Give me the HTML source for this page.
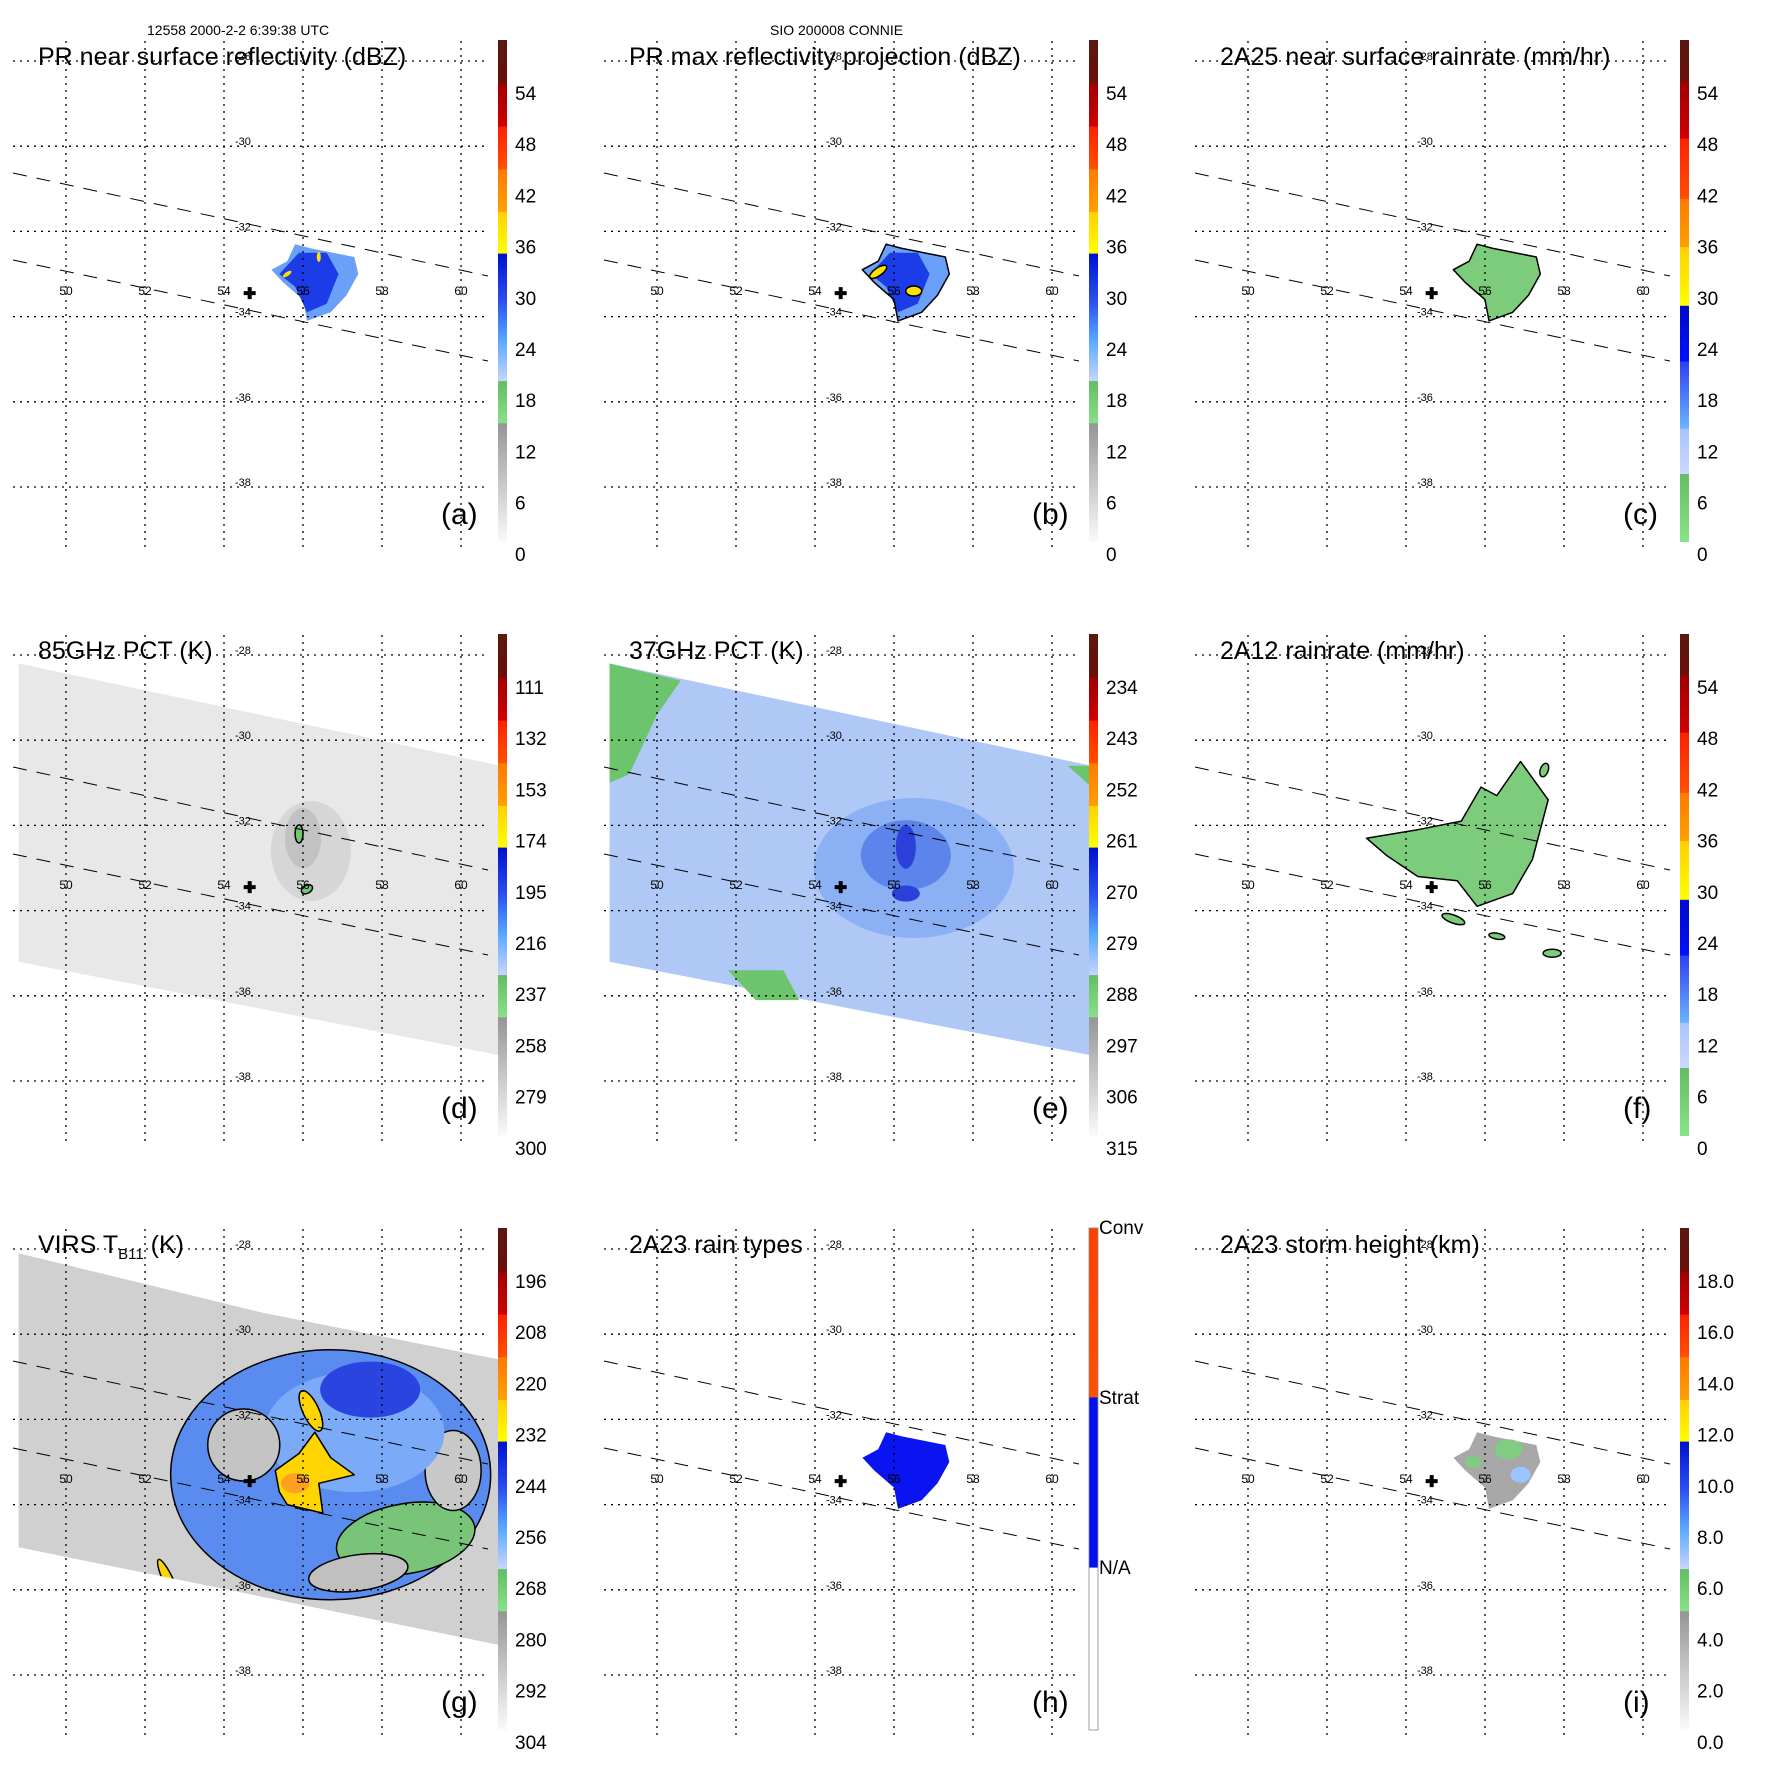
<!DOCTYPE html>
<html><head><meta charset="utf-8"><style>
html,body{margin:0;padding:0;background:#fff;}
svg{display:block;font-family:"Liberation Sans",Arial,sans-serif;}
</style></head><body>
<svg id="fig" width="1771" height="1771" viewBox="0 0 1771 1771" xmlns="http://www.w3.org/2000/svg">
<defs>
<linearGradient id="gA" x1="0" y1="0" x2="0" y2="1">
<stop offset="0" stop-color="#5a1812"/><stop offset="0.086" stop-color="#6a1008"/>
<stop offset="0.087" stop-color="#a00000"/><stop offset="0.172" stop-color="#d00000"/>
<stop offset="0.173" stop-color="#ff2000"/><stop offset="0.257" stop-color="#ff5000"/>
<stop offset="0.258" stop-color="#ff7a00"/><stop offset="0.342" stop-color="#ffa000"/>
<stop offset="0.343" stop-color="#ffd000"/><stop offset="0.425" stop-color="#ffff00"/>
<stop offset="0.426" stop-color="#0010d0"/><stop offset="0.52" stop-color="#2a50f0"/><stop offset="0.6" stop-color="#5aaaff"/><stop offset="0.679" stop-color="#c8d4ff"/>
<stop offset="0.68" stop-color="#64bc64"/><stop offset="0.763" stop-color="#88e088"/>
<stop offset="0.764" stop-color="#959595"/><stop offset="1" stop-color="#fafafa"/>
</linearGradient>
<linearGradient id="gC" x1="0" y1="0" x2="0" y2="1">
<stop offset="0" stop-color="#5a1812"/><stop offset="0.082" stop-color="#6a1008"/>
<stop offset="0.083" stop-color="#a00000"/><stop offset="0.196" stop-color="#d00000"/>
<stop offset="0.197" stop-color="#ff2000"/><stop offset="0.316" stop-color="#ff5000"/>
<stop offset="0.317" stop-color="#ff7a00"/><stop offset="0.412" stop-color="#ffa000"/>
<stop offset="0.413" stop-color="#ffd000"/><stop offset="0.529" stop-color="#ffff00"/>
<stop offset="0.53" stop-color="#0008c8"/><stop offset="0.64" stop-color="#0010ff"/>
<stop offset="0.641" stop-color="#3040f0"/><stop offset="0.774" stop-color="#6ab4ff"/>
<stop offset="0.775" stop-color="#a8c4ff"/><stop offset="0.864" stop-color="#ccd8ff"/>
<stop offset="0.865" stop-color="#64bc64"/><stop offset="1" stop-color="#88e488"/>
</linearGradient>
<linearGradient id="gH" x1="0" y1="0" x2="0" y2="1">
<stop offset="0" stop-color="#ff4000"/><stop offset="0.337" stop-color="#ff5000"/>
<stop offset="0.338" stop-color="#0010f0"/><stop offset="0.676" stop-color="#0010f0"/>
<stop offset="0.677" stop-color="#ffffff"/><stop offset="1" stop-color="#ffffff"/>
</linearGradient>
</defs>
<text x="147" y="35" font-size="14">12558 2000-2-2 6:39:38 UTC</text>
<text x="770" y="35" font-size="14">SIO 200008 CONNIE</text>
</svg>
<script>
const NS="http://www.w3.org/2000/svg";
const fig=document.getElementById('fig');
const lonTicks=[50,52,54,56,58,60];
const latTicks=[-28,-30,-32,-34,-36,-38];
const panelTitles=["PR near surface reflectivity (dBZ)","PR max reflectivity projection (dBZ)","2A25 near surface rainrate (mm/hr)","85GHz PCT (K)","37GHz PCT (K)","2A12 rainrate (mm/hr)","VIRS T","2A23 rain types","2A23 storm height (km)"];
const panelLetters=["(a)","(b)","(c)","(d)","(e)","(f)","(g)","(h)","(i)"];
const cbarA=["54","48","42","36","30","24","18","12","6","0"];
const cbarD=["111","132","153","174","195","216","237","258","279","300"];
const cbarE=["234","243","252","261","270","279","288","297","306","315"];
const cbarG=["196","208","220","232","244","256","268","280","292","304"];
const cbarI=["18.0","16.0","14.0","12.0","10.0","8.0","6.0","4.0","2.0","0.0"];
const cbarH=["Conv","Strat","N/A"];
const cbarLabels=[cbarA,cbarA,cbarA,cbarD,cbarE,cbarA,cbarG,cbarH,cbarI];
const cbarGrad=["gA","gA","gC","gA","gA","gC","gA","gH","gA"];
const eyeLon=54.65, eyeLat=-33.45;

function el(tag,attrs,parent){const e=document.createElementNS(NS,tag);for(const k in attrs)e.setAttribute(k,attrs[k]);(parent||fig).appendChild(e);return e;}
const xs=lon=>66+(lon-50)*39.5;
const ys=lat=>61+(-28-lat)*42.6;
function pts(arr){return arr.map(p=>xs(p[0]).toFixed(1)+","+ys(p[1]).toFixed(1)).join(" ");}

const prBlob=[[55.2,-32.9],[55.6,-32.7],[55.8,-32.3],[56.2,-32.4],[57.3,-32.6],[57.4,-33.0],[57.1,-33.5],[56.7,-33.9],[56.1,-34.1],[56.0,-33.6],[55.5,-33.2]];
const swath=[[48.8,-28.2],[61.0,-30.6],[61.0,-37.4],[48.8,-35.2]];
const fBlob=[[53.0,-32.3],[54.3,-32.1],[55.4,-31.9],[55.9,-31.1],[56.3,-31.3],[56.9,-30.5],[57.6,-31.4],[57.2,-32.8],[56.7,-33.6],[55.8,-33.9],[55.3,-33.3],[54.3,-33.2],[53.5,-32.7]];

function panel(i){
  const ox=(i%3)*591, oy=Math.floor(i/3)*594;
  const g=el('g',{transform:`translate(${ox},${oy})`});
  
  
  const data=el('g',{},g);
  
  
  drawData(i,data);
  lonTicks.forEach(lon=>{
    const l=el('line',{x1:xs(lon),x2:xs(lon),y1:41,y2:551,stroke:'#000','stroke-width':1.3,'stroke-dasharray':'2,5'},g);
    
    
    const t=el('text',{x:xs(lon),y:295,'font-size':12,'text-anchor':'middle'},g);t.textContent=lon;
    
    
  });
  latTicks.forEach(lat=>{
    const l=el('line',{x1:13,x2:488,y1:ys(lat),y2:ys(lat),stroke:'#000','stroke-width':1.3,'stroke-dasharray':'2,5'},g);
    
    
    const t=el('text',{x:235,y:ys(lat)-1,'font-size':11},g);t.textContent=lat;
    
    
  });
  [[173,276],[260,361]].forEach(p=>{
    const l=el('line',{x1:13,y1:p[0],x2:488,y2:p[1],stroke:'#000','stroke-width':1,'stroke-dasharray':'14,10'},g);
    
    
  });
  const c=el('path',{d:`M${xs(eyeLon)-6},${ys(eyeLat)}h12M${xs(eyeLon)},${ys(eyeLat)-6}v12`,stroke:'#000','stroke-width':4},g);
  
  
  const t=el('text',{x:38,y:65,'font-size':25},g);
  
  
  if(i===6){t.textContent='VIRS T';const s=el('tspan',{'font-size':15,dy:6},t);s.textContent='B11';const s2=el('tspan',{dy:-6},t);s2.textContent=' (K)';}
  else t.textContent=panelTitles[i];
  const L=el('text',{x:441,y:524,'font-size':30},g);L.textContent=panelLetters[i];
  
  
  const cb=el('rect',{x:498,y:40,width:9,height:502,fill:`url(#${cbarGrad[i]})`,stroke:i===7?'#888':'none','stroke-width':0.8},g);
  
  
  const labs=cbarLabels[i];
  labs.forEach((s,k)=>{
    let y;
    if(i===7) y=46+k*170; else y=100+k*51.2;
    const tt=el('text',{x:i===7?508:515,y:y,'font-size':19},g);tt.textContent=s;
    
    
  });
}

function poly(parent,arr,fill,stroke,name){
  const p=el('polygon',{points:pts(arr),fill:fill,stroke:stroke||'none','stroke-width':1.5,'stroke-linejoin':'round'},parent);
  
  
  return p;
}
function ell(parent,lon,lat,rx,ry,fill,stroke,name,rot){
  const e=el('ellipse',{cx:xs(lon),cy:ys(lat),rx:rx,ry:ry,fill:fill,stroke:stroke||'none','stroke-width':1.5,transform:rot?`rotate(${rot} ${xs(lon)} ${ys(lat)})`:''},parent);
  
  
  return e;
}

function drawData(i,d){
  if(i===0||i===1){
    poly(d,prBlob,'#6aa0f8',null,'rain-echo');
    poly(d,[[55.4,-33.0],[55.9,-32.5],[56.6,-32.5],[56.9,-33.0],[56.6,-33.7],[56.1,-33.9],[55.8,-33.3]],'#1c3ce8',null,'strong-echo');
    if(i===1){poly(d,prBlob,'none','#000','echo-contour');
      ell(d,55.6,-32.95,10,4,'#ffe000','#000','convective-core',-35);
      ell(d,56.5,-33.4,8,5,'#ffe000','#000','convective-core',0);}
    else {ell(d,55.6,-33.0,5,2,'#ffe000',null,'convective-core',-35);ell(d,56.4,-32.6,2,5,'#ffe000',null,'convective-core',0);}
  } else if(i===2){
    poly(d,prBlob,'#7ccc7c','#000','rain-area');
  } else if(i===3){
    poly(d,swath,'#e8e8e8',null,'tmi-swath');
    ell(d,56.2,-32.6,40,50,'#d6d6d6',null,'ice-scattering');
    ell(d,56.0,-32.3,18,30,'#c2c2c2',null,'ice-scattering');
    ell(d,55.9,-32.2,4,9,'#70c870','#000','cold-pct-area');
    ell(d,56.1,-33.5,6,4,'#70c870','#000','cold-pct-area',-30);
  } else if(i===4){
    poly(d,swath,'#b0c8f6',null,'tmi-swath');
    ell(d,56.5,-33.0,100,70,'#8cb0f4',null,'warm-rain-area');
    ell(d,56.3,-32.7,45,35,'#5c84ea',null,'rain-band');
    ell(d,56.3,-32.5,10,22,'#2a40d8',null,'heavy-rain');
    ell(d,56.3,-33.6,14,8,'#2a40d8',null,'heavy-rain');
    poly(d,[[48.8,-28.2],[50.6,-28.6],[50.0,-29.4],[49.3,-30.8],[48.8,-31.0]],'#6cc46c',null,'land-area');
    poly(d,[[51.8,-35.4],[53.2,-35.4],[53.6,-36.1],[52.5,-36.1]],'#6cc46c',null,'land-area');
    poly(d,[[60.4,-30.6],[61.0,-30.6],[61.0,-31.1]],'#6cc46c',null,'land-area');
  } else if(i===5){
    poly(d,fBlob,'#7ccc7c','#000','rain-area');
    ell(d,55.2,-34.2,12,4,'#7ccc7c','#000','rain-cell',20);
    ell(d,56.3,-34.6,8,3,'#7ccc7c','#000','rain-cell',10);
    ell(d,57.7,-35.0,9,4,'#7ccc7c','#000','rain-cell',0);
    ell(d,57.5,-30.7,4,7,'#7ccc7c','#000','rain-cell',20);
  } else if(i===6){
    const sw=[[48.8,-28.1],[55.0,-29.5],[61.0,-30.6],[61.0,-37.3],[48.8,-35.0]];
    poly(d,sw,'#d0d0d0',null,'virs-swath');
    const cp=el('clipPath',{id:'clipG'},d);
    el('polygon',{points:pts(sw)},cp);
    const g2=el('g',{'clip-path':'url(#clipG)'},d);
    
    
    ell(g2,56.7,-33.3,160,125,'#5a8cf0','#000','outer-rainband');
    ell(g2,58.6,-34.8,70,35,'#78c478','#000','warm-cloud',-10);
    ell(g2,59.8,-33.2,28,40,'#c8c8c8','#000','clear-gap');
    ell(g2,57.4,-35.6,50,18,'#c0c0c0','#000','clear-gap',-8);
    ell(g2,57.3,-32.3,90,60,'#7aaaf8',null,'inner-cloud');
    ell(g2,57.7,-31.3,50,28,'#2a44e0',null,'deep-convection');
    ell(g2,54.5,-32.6,36,36,'#c4c4c4','#000','eye-region');
    poly(g2,[[55.3,-33.2],[55.9,-32.8],[56.3,-32.3],[56.7,-32.9],[57.3,-33.3],[56.4,-33.5],[56.5,-34.2],[55.6,-34.0],[55.4,-33.7]],'#ffd400','#000','cold-cloud-top');
    ell(g2,55.8,-33.5,14,10,'#ffa020',null,'coldest-cloud-top');
    ell(g2,56.2,-31.8,8,22,'#ffd400','#000','cold-cloud-top',-25);
    ell(g2,52.6,-35.8,5,24,'#ffd400','#000','cold-cloud-top',-25);
  } else if(i===7){
    poly(d,prBlob,'#0a14f0',null,'stratiform-rain');
  } else if(i===8){
    poly(d,prBlob,'#a8a8a8',null,'storm-height-area');
    ell(d,56.6,-32.7,14,10,'#80cc80',null,'storm-height-mid');
    ell(d,56.9,-33.3,10,8,'#9cc4ff',null,'storm-height-high');
    ell(d,55.7,-33.0,8,6,'#80cc80',null,'storm-height-mid');
  }
}
for(let i=0;i<9;i++) panel(i);
</script>
</body></html>
